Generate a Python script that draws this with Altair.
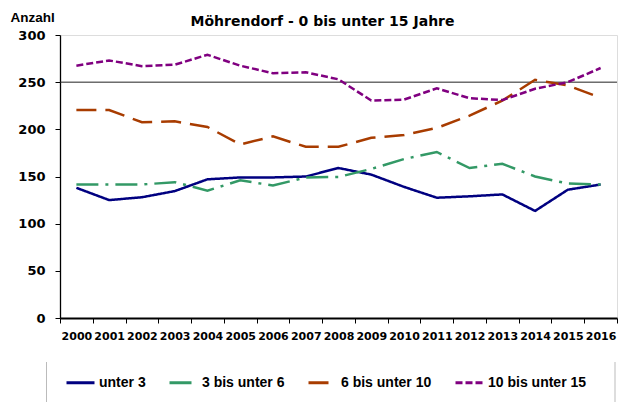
import altair as alt
import pandas as pd

years = [str(y) for y in range(2000, 2017)]
series_names = ["unter 3", "3 bis unter 6", "6 bis unter 10", "10 bis unter 15"]
unter_3 = [138, 125, 128, 134.5, 147, 149, 149, 150, 159, 152, 139, 127.5, 129, 131, 113.5, 136, 141.5]
bis_6 = [141.5, 141.5, 141.5, 144, 135, 146, 140.5, 149, 149.5, 158, 168.5, 176, 159, 163.5, 150, 142.5, 141.5]
bis_10 = [220.5, 220.5, 207.5, 208.5, 202.5, 184, 192.5, 181.5, 181.5, 191, 194, 201.5, 214.5, 230.5, 252.5, 246.5, 233.5]
bis_15 = [267.5, 273, 267, 268.5, 279, 267.5, 259.5, 260.5, 253, 230.5, 231.5, 243.5, 233, 231, 243, 250, 265]
colors = ["#000080", "#339966", "#A83C00", "#800080"]
dashes = [[1, 0], [22, 7, 3, 7], [20, 9], [7, 3]]
ref_line = [250]
y_ticks = [0, 50, 100, 150, 200, 250, 300]

rows = []
for name, vals in zip(series_names, [unter_3, bis_6, bis_10, bis_15]):
    for yr, v in zip(years, vals):
        rows.append({"Jahr": yr, "Anzahl": v, "series": name})
df = pd.DataFrame(rows)

legend = alt.Legend(
    title=None, orient="none", legendX=5, legendY=332, direction="horizontal",
    columns=4, symbolType="stroke", symbolSize=784, symbolStrokeWidth=3,
    labelFont="Liberation Sans", labelFontWeight="bold", labelFontSize=14,
    labelColor="black", labelOffset=3, columnPadding=17, padding=0, symbolOffset=0,
)

x_enc = alt.X(
    "Jahr:O", sort=years, bandPosition=0.5,
    scale=alt.Scale(type="band", paddingInner=0, paddingOuter=0),
    axis=alt.Axis(title=None, labelAngle=0, labelOverlap=False, tickBand="extent",
                  labelFont="DejaVu Sans", labelFontWeight="bold", labelFontSize=11,
                  labelColor="black", labelPadding=7, tickSize=5, tickColor="black",
                  domainColor="black", domainWidth=2),
)
y_enc = alt.Y(
    "Anzahl:Q", scale=alt.Scale(domain=[0, 300], nice=False),
    axis=alt.Axis(values=y_ticks, grid=False, title="Anzahl", titleAngle=0,
                  titleAlign="left", titleBaseline="alphabetic", titleX=-50, titleY=-14,
                  titleFont="Liberation Sans", titleFontWeight="bold", titleFontSize=13.5,
                  titleColor="black",
                  labelFont="DejaVu Sans", labelFontWeight="bold", labelFontSize=13,
                  labelColor="black", labelPadding=10, tickSize=5, tickColor="black",
                  domainColor="black", domainWidth=1.3),
)

lines = alt.Chart(df).mark_line(strokeWidth=2.5, strokeCap="butt").encode(
    x=x_enc,
    y=y_enc,
    color=alt.Color("series:N", sort=series_names,
                    scale=alt.Scale(domain=series_names, range=colors), legend=legend),
    strokeDash=alt.StrokeDash("series:N", sort=series_names,
                              scale=alt.Scale(domain=series_names, range=dashes), legend=legend),
    detail="series:N",
)

ref = alt.Chart(pd.DataFrame({"v": ref_line})).mark_rule(color="#222222", strokeWidth=1).encode(
    y=alt.Y("v:Q")
)

box_df = pd.DataFrame({"k": [0]})
box_left = alt.Chart(box_df).mark_rule(color="#bbbbbb", strokeWidth=1).encode(
    x=alt.value(-13.5), y=alt.value(327), y2=alt.value(367)
)
box_right = alt.Chart(box_df).mark_rule(color="#bbbbbb", strokeWidth=1).encode(
    x=alt.value(555), y=alt.value(327), y2=alt.value(367)
)

chart = alt.layer(ref, lines, box_left, box_right).properties(
    width=557, height=283,
    title=alt.TitleParams("Möhrendorf - 0 bis unter 15 Jahre", font="DejaVu Sans",
                          fontWeight="bold", fontSize=14, color="black", anchor="middle",
                          frame="group", baseline="alphabetic", offset=13, dx=-16, dy=43),
    autosize=alt.AutoSizeParams(type="none"),
    padding={"left": 52, "top": 27, "right": 8, "bottom": 84},
).configure_view(stroke="#808080", strokeWidth=1).configure(background="white")

chart.save("out.html", embed_options={"renderer": "svg", "actions": False})
